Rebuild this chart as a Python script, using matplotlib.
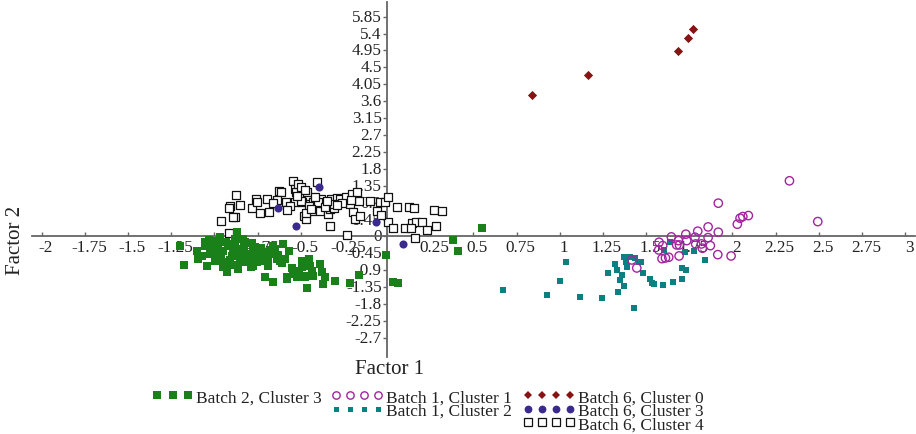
import matplotlib
matplotlib.use("Agg")
import matplotlib.pyplot as plt
import matplotlib.transforms as mtransforms
from matplotlib.lines import Line2D

plt.rcParams['font.family'] = ['Liberation Serif', 'DejaVu Serif']

# ---------------- data ----------------
b2c3_x = [-1.199, -1.175, -1.054, -1.092, -1.044, -0.967, -1.006, -0.986, -0.948, -0.928,
          -0.909, -0.867, -0.890, -0.851, -0.861, -0.822, -0.812, -0.774, -0.754, -0.716,
          -0.706, -0.687, -0.658, -0.649, -0.639, -0.600, -0.591, -0.581, -0.543, -0.523,
          -0.494, -0.485, -0.465, -0.465, -0.446, -0.427, -0.388, -0.378, -0.369, -0.359,
          -0.301, -0.214, -0.160, -0.006, 0.033, 0.065, 0.380, 0.413, 0.548,
          -1.054, -1.025, -0.996, -0.977, -0.967, -0.948, -0.938, -0.919, -0.899, -0.880,
          -0.851, -0.832, -0.822, -0.793, -0.774, -0.764, -0.735, -0.706, -0.687, -0.649,
          -0.620, -0.581, -0.523, -0.494, -0.475, -0.436,
          -1.03, -0.99, -0.96, -0.93, -0.91, -0.88, -0.86, -0.84, -0.80, -0.78,
          -0.76, -0.73, -0.70, -0.67, -0.63, -0.61, -0.57, -0.55, -0.51, -0.45,
          -1.10, -1.07, -1.01, -0.95, -0.89, -0.83, -0.79, -0.74, -0.69, -0.66]
b2c3_y = [-0.245, -0.760, -0.245, -0.600, -0.778, -0.067, -0.333, -0.511, -0.689, -0.956,
          -0.245, 0.112, -0.421, -0.689, -0.867, -0.155, -0.511, -0.333, -0.689, -0.421,
          -1.088, -0.689, -1.221, -0.333, -0.600, -0.200, -0.600, -1.133, -1.000, -1.088,
          -0.821, -0.645, -1.045, -1.381, -0.778, -1.045, -0.733, -0.956, -1.267, -1.088,
          -1.178, -1.240, -1.027, -0.493, -1.205, -1.240, -0.085, -0.378, 0.227,
          -0.155, -0.467, -0.645, -0.288, -0.021, -0.378, -0.733, -0.200, -0.511, -0.067,
          -0.333, -0.067, -0.689, -0.467, -0.778, -0.288, -0.645, -0.421, -0.778, -0.467,
          -0.645, -1.088, -0.956, -0.645, -1.088, -0.911,
          -0.10, -0.42, -0.56, -0.15, -0.62, -0.28, -0.52, -0.40, -0.58, -0.18,
          -0.55, -0.30, -0.62, -0.35, -0.50, -0.72, -0.40, -0.85, -0.92, -0.60,
          -0.40, -0.52, -0.12, -0.82, -0.75, -0.25, -0.82, -0.53, -0.55, -0.25]

b1c1_x = [2.330, 1.918, 2.494, 2.092, 2.060, 2.044, 2.028, 1.859, 1.918, 1.799,
          1.730, 1.783, 1.859, 1.646, 1.687, 1.735, 1.677, 1.693, 1.575, 1.596,
          1.573, 1.787, 1.820, 1.872, 1.826, 1.691, 1.631, 1.612, 1.592, 1.915,
          1.992, 1.446, 1.417]
b1c1_y = [1.480, 0.885, 0.395, 0.555, 0.528, 0.485, 0.325, 0.253, 0.112, 0.139,
          0.059, -0.021, -0.032, -0.013, -0.112, -0.112, -0.227, -0.227, -0.155, -0.245,
          -0.360, -0.200, -0.200, -0.245, -0.315, -0.520, -0.555, -0.573, -0.592, -0.485,
          -0.520, -0.840, -0.627]

b1c2_x = [0.673, 0.928, 1.036, 1.003, 1.118, 1.243, 1.280, 1.318, 1.330, 1.361,
          1.347, 1.372, 1.338, 1.374, 1.384, 1.391, 1.409, 1.434, 1.457, 1.471,
          1.482, 1.432, 1.523, 1.533, 1.544, 1.600, 1.658, 1.706, 1.706, 1.730,
          1.606, 1.639, 1.726, 1.779, 1.841]
b1c2_y = [-1.419, -1.560, -0.680, -1.180, -1.610, -1.630, -0.965, -0.733, -0.893, -1.035,
          -1.168, -1.328, -1.488, -0.539, -0.680, -0.821, -0.539, -0.581, -0.672, -0.672,
          -0.981, -1.907, -1.141, -1.240, -1.275, -1.293, -1.221, -1.133, -0.832, -0.885,
          -0.368, -0.155, -0.405, -0.387, -0.635]

b6c0_x = [0.838, 1.162, 1.687, 1.741, 1.774]
b6c0_y = [3.77, 4.30, 4.94, 5.27, 5.51]

b6c3_x = [-0.633, -0.397, -0.527, -0.064, 0.091]
b6c3_y = [0.76, 1.31, 0.29, 0.39, -0.19]

b6c4_x = [-0.876, -0.909, -0.915, -0.849, -0.963, -0.878, -0.890, -0.913, -0.780, -0.760,
          -0.751, -0.735, -0.681, -0.697, -0.624, -0.614, -0.635, -0.585, -0.546, -0.535,
          -0.527, -0.513, -0.498, -0.533, -0.494, -0.465, -0.475, -0.481, -0.469, -0.446,
          -0.436, -0.427, -0.407, -0.382, -0.388, -0.369, -0.340, -0.330, -0.324, -0.305,
          -0.330, -0.288, -0.272, -0.237, -0.204, -0.214, -0.199, -0.185, -0.176, -0.160,
          -0.156, -0.233, -0.098, -0.060, -0.041, -0.012, 0.008, 0.008, 0.036, 0.056,
          0.104, 0.129, 0.158, 0.143, 0.168, 0.201, 0.137, 0.162, 0.230, 0.272,
          0.318, 0.284, -0.035,
          -0.56, -0.50, -0.45, -0.40, -0.36, -0.31, -0.26, -0.42, -0.58, -0.66,
          -0.47, -0.35, -0.29, -0.21, -0.52, -0.44]
b6c4_y = [1.107, 0.821, 0.751, 0.840, 0.405, 0.528, 0.512, 0.101, 0.751, 1.000,
          0.912, 0.619, 0.645, 1.000, 1.221, 1.179, 0.981, 0.912, 1.488, 1.267,
          1.179, 1.400, 1.312, 0.912, 0.912, 1.179, 1.240, 0.555, 0.467, 0.867,
          0.688, 0.912, 1.445, 1.000, 0.688, 0.885, 0.600, 0.733, 1.000, 0.751,
          0.272, 1.019, 1.000, 1.045, 1.133, 0.867, 0.645, 0.467, 1.179, 0.955,
          0.555, 0.040, 0.955, 0.680, 0.912, 0.912, 1.045, 0.379, 0.219, 0.779,
          0.227, 0.795, 0.768, 0.360, 0.379, 0.395, 0.227, -0.040, 0.181, 0.699,
          0.680, 0.272, 0.573,
          0.82, 0.95, 0.80, 0.92, 0.78, 0.85, 0.90, 1.05, 0.70, 0.88,
          0.62, 0.95, 0.83, 0.98, 1.08, 0.74]

x_ticks = [-2, -1.75, -1.5, -1.25, -1, -0.75, -0.5, -0.25, 0, 0.25, 0.5, 0.75,
           1, 1.25, 1.5, 1.75, 2, 2.25, 2.5, 2.75, 3]
y_ticks = [-2.7, -2.25, -1.8, -1.35, -0.9, -0.45, 0, 0.45, 0.9, 1.35, 1.8,
           2.25, 2.7, 3.15, 3.6, 4.05, 4.5, 4.95, 5.4, 5.85]

C_GREEN = '#1a801a'
C_TEAL = '#0b8080'
C_PURPLE = '#a2249f'
C_RED = '#861414'
C_NAVY = '#3a2a8e'

# ---------------- figure ----------------
W, H = 916, 435
fig = plt.figure(figsize=(W / 100, H / 100), dpi=100)
ax = fig.add_axes([32 / W, (H - 358) / H, (915 - 32) / W, (358 - 3) / H])
ax.set_xlim(-2.056, 3.057)
ax.set_ylim(-3.21, 6.24)

ax.scatter(b6c4_x, b6c4_y, marker='s', s=35, facecolors='white', edgecolors='#111111',
           linewidths=0.9, zorder=3)
ax.scatter(b2c3_x, b2c3_y, marker='s', s=40, color=C_GREEN, linewidths=0, zorder=4)
ax.scatter(b1c2_x, b1c2_y, marker='s', s=14, color=C_TEAL, linewidths=0, zorder=4)
ax.scatter(b1c1_x, b1c1_y, marker='o', s=36, facecolors='none', edgecolors=C_PURPLE,
           linewidths=1.0, zorder=5)
ax.scatter(b6c3_x, b6c3_y, marker='o', s=34, color=C_NAVY, linewidths=0, zorder=6)
ax.scatter(b6c0_x, b6c0_y, marker='D', s=22, color=C_RED, linewidths=0, zorder=6)

for side in ['top', 'right']:
    ax.spines[side].set_visible(False)
ax.spines['left'].set_position(('data', 0))
ax.spines['bottom'].set_position(('data', 0))
for side in ['left', 'bottom']:
    ax.spines[side].set_color('#666666')
    ax.spines[side].set_linewidth(1.3)

ax.set_xticks(x_ticks)
ax.set_xticklabels(['' if v == 0 else f'{v:g}' for v in x_ticks])
ax.set_yticks(y_ticks)
ax.set_yticklabels([f'{v:g}' for v in y_ticks])
ax.tick_params(axis='x', direction='in', length=3, width=1, color='#666666',
               labelsize=12.3, pad=2, labelcolor='#222222')
ax.tick_params(axis='y', direction='out', length=3, width=1, color='#666666',
               labelsize=12.3, pad=1, labelcolor='#222222')
for lab in ax.get_yticklabels():
    lab.set_verticalalignment('center')
shift = mtransforms.ScaledTranslation(4 / 100, 0, fig.dpi_scale_trans)
for lab in ax.get_xticklabels():
    lab.set_transform(lab.get_transform() + shift)

fig.text(390 / W, 1 - 370 / H, 'Factor 1', ha='center', va='center', fontsize=15,
         color='#222222')
fig.text(15 / W, 1 - 240 / H, 'Factor 2', ha='center', va='center', fontsize=15,
         rotation=90, color='#222222')

# ---------------- legend ----------------
def h(marker, ms, fc, ec, mew=0):
    return Line2D([], [], linestyle='none', marker=marker, markersize=ms,
                  markerfacecolor=fc, markeredgecolor=ec, markeredgewidth=mew)

common = dict(frameon=False, fontsize=12.5, handletextpad=0.15, borderpad=0,
              borderaxespad=0, labelspacing=-0.15, loc='upper left',
              bbox_transform=fig.transFigure)

top = 1 - 390 / H
leg1 = fig.legend([h('s', 6.0, C_GREEN, C_GREEN)], ['Batch 2, Cluster 3'],
                  numpoints=3, handlelength=2.4, bbox_to_anchor=(152 / W, top),
                  **common)
leg2 = fig.legend([h('o', 5.3, 'none', C_PURPLE, 1.0), h('s', 3.6, C_TEAL, C_TEAL)],
                  ['Batch 1, Cluster 1', 'Batch 1, Cluster 2'],
                  numpoints=4, handlelength=3.0, bbox_to_anchor=(331 / W, top),
                  **common)
leg3 = fig.legend([h('D', 4.3, C_RED, C_RED), h('o', 5.6, C_NAVY, C_NAVY),
                   h('s', 5.2, 'white', '#111111', 0.9)],
                  ['Batch 6, Cluster 0', 'Batch 6, Cluster 3', 'Batch 6, Cluster 4'],
                  numpoints=4, handlelength=3.0, bbox_to_anchor=(523 / W, top),
                  **common)
for lg in (leg1, leg2, leg3):
    for t in lg.get_texts():
        t.set_color('#222222')

fig.savefig('out.png', dpi=100)
